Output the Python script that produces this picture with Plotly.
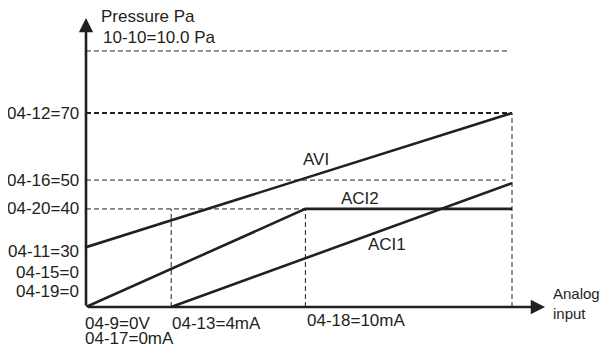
import plotly.graph_objects as go

# analog input positions (mA scale)
x_start = 0
x_4ma = 4
x_10ma = 10.3
x_end = 20
x_arrow = 21.55

# pressure levels (drawing scale, 04-12=70 at 70)
y_avi_start = 21.6   # 04-11=30
y_aci2_top = 35.4    # 04-20=40
y_level_50 = 45.8    # 04-16=50
y_aci1_end = 44.7
y_level_70 = 70      # 04-12=70
y_level_1010 = 92.4  # 10-10=10.0 Pa
y_arrow = 104.3

avi_x = [x_start, x_end]
avi_y = [y_avi_start, y_level_70]
aci2_x = [x_start, x_10ma, x_end]
aci2_y = [0, y_aci2_top, y_aci2_top]
aci1_x = [x_4ma, x_end]
aci1_y = [0, y_aci1_end]

y_labels = ['04-12=70', '04-16=50', '04-20=40', '04-11=30', '04-15=0', '04-19=0']
y_label_pos = [y_level_70, y_level_50, y_aci2_top, 20.2, 12.4, 5.5]

x_labels = ['04-9=0V', '04-17=0mA', '04-13=4mA', '04-18=10mA']
x_label_pos = [x_start, x_start, x_4ma, x_10ma]
x_label_shift = [-3, -3, -1, 0]
x_label_drop = [16, 31, 16, 13]  # px below the axis

INK = '#231f20'
FONT = dict(family='Liberation Sans, Arial, sans-serif', size=17, color=INK)
PX_X = 21.3
PX_Y = 2.771

fig = go.Figure()

def dashed(xs, ys, width=1):
    fig.add_trace(go.Scatter(x=xs, y=ys, mode='lines', hoverinfo='skip',
                             line=dict(color=INK, width=width, dash='5px,3px')))

dashed([x_start, 19.8], [y_level_1010, y_level_1010])
dashed([x_start, x_end], [y_level_70, y_level_70], width=2)
dashed([x_start, 19.7], [y_level_50, y_level_50])
dashed([x_start, x_10ma], [y_aci2_top, y_aci2_top])
dashed([x_4ma, x_4ma], [0, y_aci2_top])
dashed([x_10ma, x_10ma], [0, y_aci2_top])
dashed([x_end, x_end], [0, y_level_70])

for xs, ys in [(avi_x, avi_y), (aci2_x, aci2_y), (aci1_x, aci1_y)]:
    fig.add_trace(go.Scatter(x=xs, y=ys, mode='lines', hoverinfo='skip',
                             line=dict(color=INK, width=2.6)))

# axes with arrowheads
for tip, tail in [((0, y_arrow), (0, 0)), ((x_arrow, 0), (0, 0))]:
    fig.add_annotation(x=tip[0], y=tip[1], ax=tail[0], ay=tail[1], axref='x', ayref='y',
                       text='', showarrow=True, arrowhead=2, arrowsize=1.1,
                       arrowwidth=2.6, arrowcolor=INK, standoff=0, startstandoff=0)

for txt, yy in zip(y_labels, y_label_pos):
    fig.add_annotation(x=0, y=yy, text=txt, showarrow=False, xanchor='right',
                       yanchor='middle', xshift=-5, font=FONT)

for txt, xx, sh, drop in zip(x_labels, x_label_pos, x_label_shift, x_label_drop):
    fig.add_annotation(x=xx, y=0, yref='paper', text=txt, showarrow=False,
                       xanchor='left', yanchor='middle', xshift=sh, yshift=-drop,
                       font=FONT)

def label(txt, x, y, xanchor='left'):
    fig.add_annotation(x=x, y=y, text=txt, showarrow=False, xanchor=xanchor,
                       yanchor='middle', font=FONT)

label('Pressure Pa', 0.62, 105.0)
label('10-10=10.0 Pa', 0.7, 97.2)
label('AVI', 10.8, 53.4, 'center')
label('ACI2', 12.85, 39.0, 'center')
label('ACI1', 14.13, 22.4, 'center')

# axis name at the right end of the x arrow
fig.add_annotation(x=21.85, y=0, yref='paper', text='Analog<br>input', showarrow=False,
                   xanchor='left', yanchor='middle', align='left', yshift=4,
                   font=dict(FONT, size=15))

# the page adds an 8px body margin, so the figure is 8px smaller each way
fig.update_layout(
    width=599, height=339, autosize=False,
    margin=dict(l=78, r=0, t=0, b=40),
    plot_bgcolor='white', paper_bgcolor='white',
    showlegend=False,
)
fig.update_xaxes(range=[0, 521 / PX_X], visible=False)
fig.update_yaxes(range=[0, 299 / PX_Y], visible=False)

fig.write_html('out.html')
